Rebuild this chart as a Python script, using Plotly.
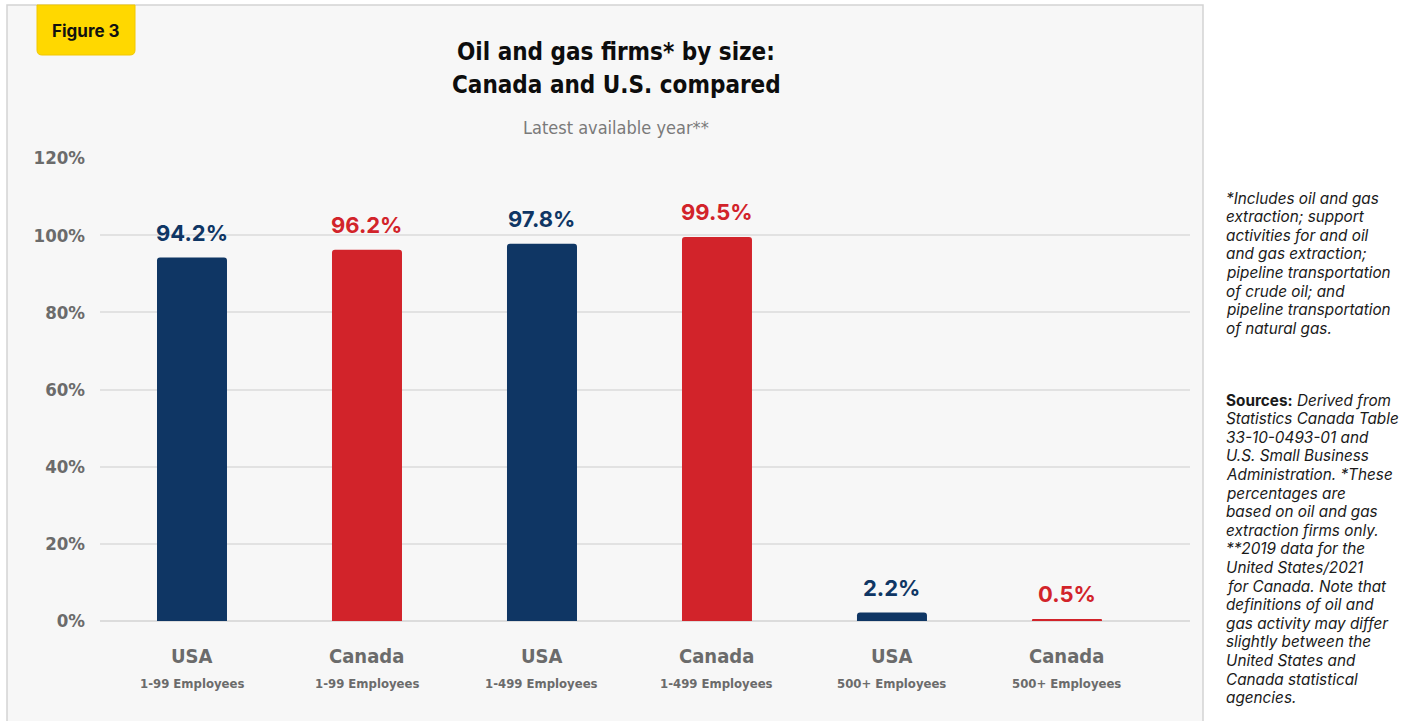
import plotly.graph_objects as go

# Data
countries = ["USA", "Canada", "USA", "Canada", "USA", "Canada"]
size_bands = ["1-99 Employees", "1-99 Employees", "1-499 Employees",
              "1-499 Employees", "500+ Employees", "500+ Employees"]
shares = [94.2, 96.2, 97.8, 99.5, 2.2, 0.5]
y_ticks = [0, 20, 40, 60, 80, 100, 120]
y_tick_labels = [f"{v}%" for v in y_ticks]

title_lines = ["Oil and gas firms* by size:", "Canada and U.S. compared"]
subtitle = "Latest available year**"
badge_text = "Figure 3"
note_lines = [
    "*Includes oil and gas", "extraction; support", "activities for and oil",
    "and gas extraction;", "pipeline transportation", "of crude oil; and",
    "pipeline transportation", "of natural gas.",
]
source_lines = [
    "<b>Sources:</b> <i>Derived from</i>", "<i>Statistics Canada Table</i>",
    "<i>33-10-0493-01 and</i>", "<i>U.S. Small Business</i>",
    "<i>Administration. *These</i>", "<i>percentages are</i>",
    "<i>based on oil and gas</i>", "<i>extraction firms only.</i>",
    "<i>**2019 data for the</i>", "<i>United States/2021</i>",
    "<i>for Canada. Note that</i>", "<i>definitions of oil and</i>",
    "<i>gas activity may differ</i>", "<i>slightly between the</i>",
    "<i>United States and</i>", "<i>Canada statistical</i>", "<i>agencies.</i>",
]

NAVY = "#0f3664"
RED = "#d2232a"
bar_colors = [NAVY if c == "USA" else RED for c in countries]

W, H = 1405, 721
COND = "DejaVu Sans Condensed, Liberation Sans Narrow, sans-serif"
BODY = "Inter, Noto Sans, sans-serif"


def px(x):
    return x / W


def py(y):
    return 1 - y / H


xs = list(range(len(shares)))

fig = go.Figure()
fig.add_trace(go.Bar(
    x=xs, y=shares, width=0.4,
    marker=dict(color=bar_colors, line=dict(width=0)),
    hoverinfo="skip",
))

annotations = []
# value labels above the bars
for x, v, c in zip(xs, shares, bar_colors):
    annotations.append(dict(
        x=x, y=v, xref="x", yref="y", text=f"<b>{v}%</b>",
        showarrow=False, xanchor="center", yanchor="bottom", yshift=10,
        font=dict(family=BODY, size=22, color=c),
    ))
# category labels under the axis
for x, c, s in zip(xs, countries, size_bands):
    annotations.append(dict(
        x=x, y=py(656), xref="x", yref="paper", text=f"<b>{c}</b>",
        showarrow=False, xanchor="center", yanchor="middle",
        font=dict(family=COND, size=20, color="#6b6b6b"),
    ))
    annotations.append(dict(
        x=x, y=py(683), xref="x", yref="paper", text=f"<b>{s}</b>",
        showarrow=False, xanchor="center", yanchor="middle",
        font=dict(family=COND, size=13, color="#6b6b6b"),
    ))

# title block
for line, yy in zip(title_lines, [52, 85]):
    annotations.append(dict(
        x=px(616), y=py(yy), xref="paper", yref="paper",
        text=f"<b>{line}</b>", showarrow=False,
        xanchor="center", yanchor="middle",
        font=dict(family=COND, size=24, color="#0d0d0d", weight=900),
    ))
annotations.append(dict(
    x=px(616), y=py(127), xref="paper", yref="paper",
    text=subtitle, showarrow=False, xanchor="center", yanchor="middle",
    font=dict(family=COND, size=18, color="#7a7a7a"),
))

# badge label
annotations.append(dict(
    x=px(86), y=py(31), xref="paper", yref="paper",
    text=f"<b>{badge_text}</b>", showarrow=False,
    xanchor="center", yanchor="middle",
    font=dict(family=BODY, size=17, color="#111111"),
))

# notes column, one annotation per line for even spacing
LINE_STEP = 18.6
for i, line in enumerate(note_lines):
    annotations.append(dict(
        x=px(1224), y=py(198 + i * LINE_STEP), xref="paper", yref="paper",
        text=f"<i>{line}</i>", showarrow=False,
        xanchor="left", yanchor="middle", align="left",
        font=dict(family=BODY, size=15.3, color="#1a1a1a"),
    ))
for i, line in enumerate(source_lines):
    annotations.append(dict(
        x=px(1224), y=py(400 + i * LINE_STEP), xref="paper", yref="paper",
        text=line, showarrow=False,
        xanchor="left", yanchor="middle", align="left",
        font=dict(family=BODY, size=15.3, color="#1a1a1a"),
    ))

shapes = [
    # chart panel
    dict(type="rect", xref="paper", yref="paper", layer="below",
         x0=px(7), x1=px(1203), y0=py(730), y1=py(5),
         fillcolor="#f7f7f7", line=dict(color="#d3d3d3", width=1.5)),
    # badge
    dict(type="path", xref="paper", yref="paper", layer="below",
         path=(f"M {px(37)},{py(5)} L {px(135)},{py(5)} L {px(135)},{py(50)} "
               f"Q {px(135)},{py(55)} {px(130)},{py(55)} L {px(42)},{py(55)} "
               f"Q {px(37)},{py(55)} {px(37)},{py(50)} Z"),
         fillcolor="#ffd800", line=dict(color="#f2c800", width=1)),
]

fig.update_layout(
    width=W, height=H,
    autosize=False,
    margin=dict(l=0, r=0, t=0, b=0, pad=0, autoexpand=False),
    paper_bgcolor="white",
    plot_bgcolor="rgba(0,0,0,0)",
    showlegend=False,
    barcornerradius=3,
    annotations=annotations,
    shapes=shapes,
    xaxis=dict(
        domain=[px(100), px(1190)],
        range=[-0.5257, 5.703],
        showticklabels=False, showgrid=False, zeroline=False,
        automargin=False, fixedrange=True,
    ),
    yaxis=dict(
        domain=[py(621), py(158)],
        range=[0, 120],
        tickvals=y_ticks, ticktext=y_tick_labels,
        tickfont=dict(family=COND, size=18.5, color="#6b6b6b", weight="bold"),
        ticklabelstandoff=14,
        showgrid=True, gridcolor="#e2e2e2", gridwidth=1.5,
        zeroline=True, zerolinecolor="#dcdcdc", zerolinewidth=1.5,
        automargin=False, fixedrange=True,
    ),
)

fig.write_html("out.html")
